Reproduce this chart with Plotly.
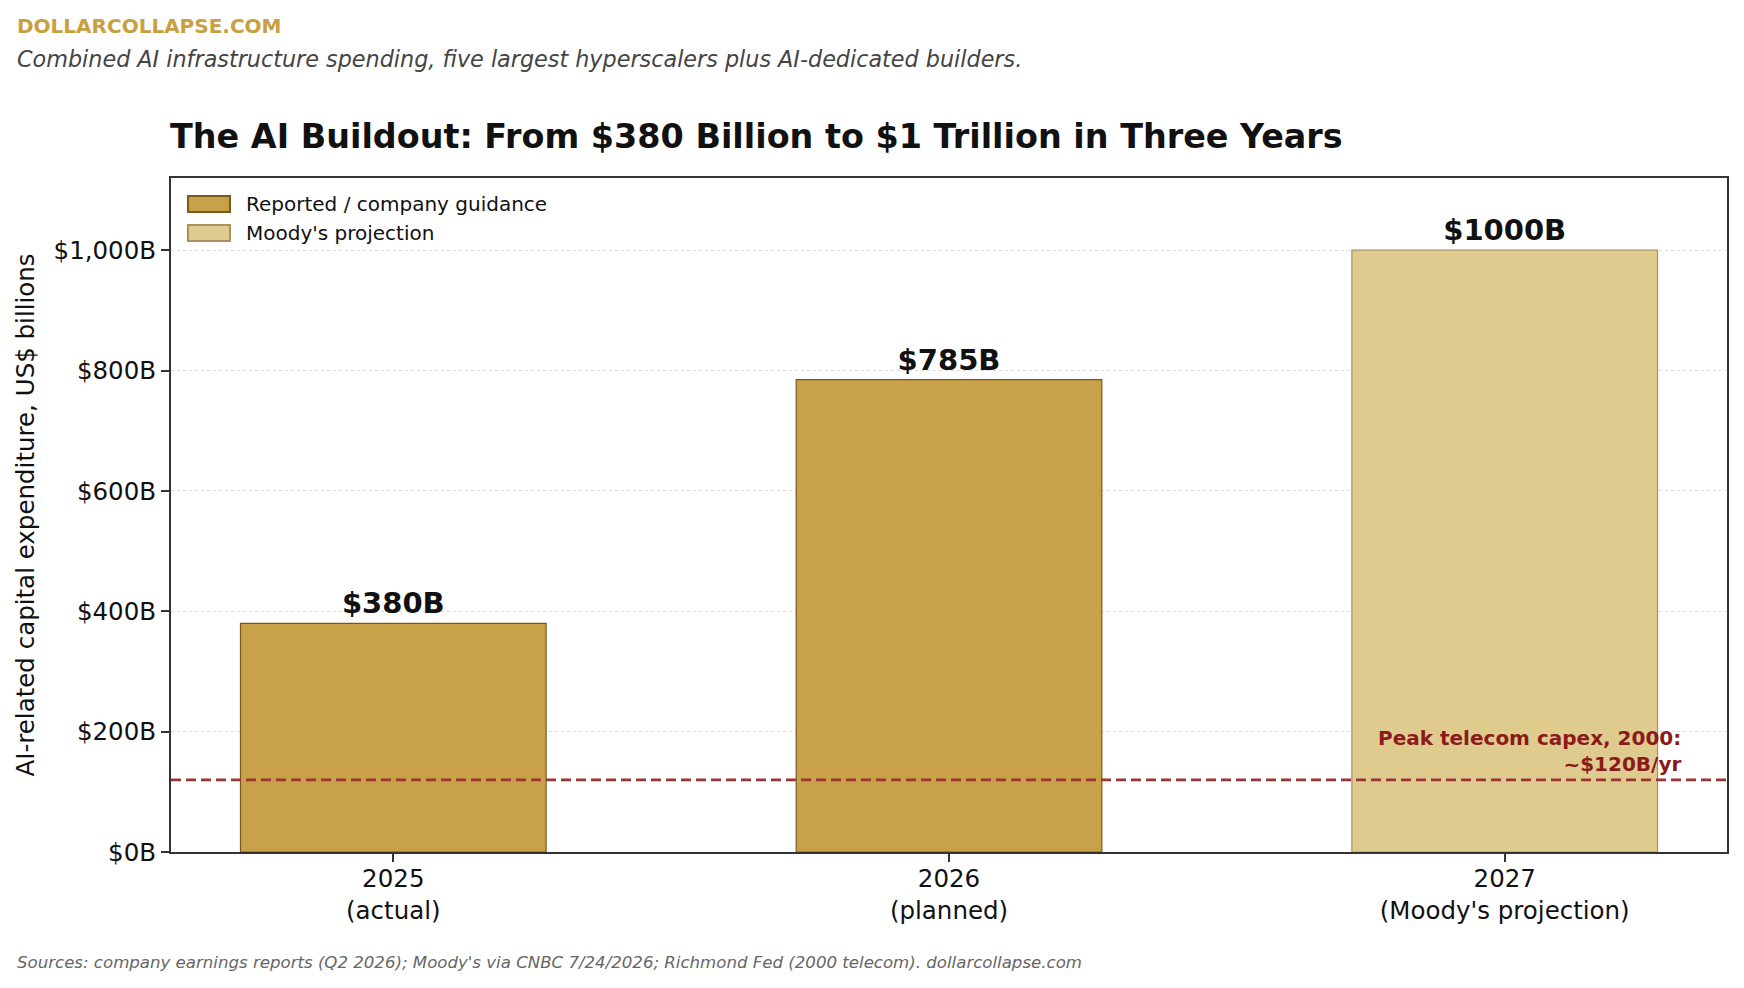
import plotly.graph_objects as go

categories = ["2025<br>(actual)", "2026<br>(planned)", "2027<br>(Moody's projection)"]
reported_cats = categories[:2]
reported_vals = [380, 785]
projection_cats = categories[2:]
projection_vals = [1000]
reported_labels = ["$380B", "$785B"]
projection_labels = ["$1000B"]
telecom_peak = 120
y_tickvals = [0, 200, 400, 600, 800, 1000]
y_ticktext = ["$0B", "$200B", "$400B", "$600B", "$800B", "$1,000B"]
legend_names = ["Reported / company guidance", "Moody's projection"]

FONT = "DejaVu Sans"
C_REP, E_REP = "#C9A14A", "#7A5A1A"
C_PROJ, E_PROJ = "#E0CB8F", "#A8905F"

fig = go.Figure()
fig.add_trace(go.Bar(
    x=reported_cats, y=reported_vals, name=legend_names[0],
    width=0.55, marker=dict(color=C_REP, line=dict(color=E_REP, width=1.2)),
    text=reported_labels, textposition="outside", cliponaxis=False,
    textfont=dict(family=FONT, size=29, color="#111111", weight="bold"),
))
fig.add_trace(go.Bar(
    x=projection_cats, y=projection_vals, name=legend_names[1],
    width=0.55, marker=dict(color=C_PROJ, line=dict(color=E_PROJ, width=1.2)),
    text=projection_labels, textposition="outside", cliponaxis=False,
    textfont=dict(family=FONT, size=29, color="#111111", weight="bold"),
))

fig.add_hline(y=telecom_peak, line=dict(color="#9B3535", width=2.8, dash="10px,5px"))

fig.add_annotation(
    x=2.32, y=telecom_peak, xref="x", yref="y", xanchor="right", yanchor="bottom",
    text="Peak telecom capex, 2000:<br>~$120B/yr", align="right", showarrow=False,
    font=dict(family=FONT, size=20, color="#8B1A1A", weight="bold"), yshift=2,
)

# Legend drawn as patches (matplotlib style)
leg_rows = [(0.9496, 0.9733, C_REP, E_REP, 0.9614), (0.9065, 0.9303, C_PROJ, E_PROJ, 0.9184)]
for (y0, y1, fc, ec, ty), name in zip(leg_rows, legend_names):
    fig.add_shape(type="rect", xref="paper", yref="paper", x0=0.0109, x1=0.0379, y0=y0, y1=y1,
                  fillcolor=fc, line=dict(color=ec, width=2))
    fig.add_annotation(x=0.0472, y=ty, xref="paper", yref="paper", xanchor="left", yanchor="middle",
                       text=name, showarrow=False, font=dict(family=FONT, size=20, color="#111111"))

fig.add_annotation(x=-0.1, y=1.2255, xref="paper", yref="paper", xanchor="left", yanchor="middle",
                   text="<b>DOLLARCOLLAPSE.COM</b>", showarrow=False,
                   font=dict(family=FONT, size=20, color="#C9A03F"))
fig.add_annotation(x=-0.1, y=1.1766, xref="paper", yref="paper", xanchor="left", yanchor="middle",
                   text="<i>Combined AI infrastructure spending, five largest hyperscalers plus AI-dedicated builders.</i>",
                   showarrow=False, font=dict(family=FONT, size=22.3, color="#444444"))
fig.add_annotation(x=-0.002, y=1.0623, xref="paper", yref="paper", xanchor="left", yanchor="middle",
                   text="<b>The AI Buildout: From $380 Billion to $1 Trillion in Three Years</b>",
                   showarrow=False, font=dict(family=FONT, size=33.4, color="#111111"))
fig.add_annotation(x=-0.1, y=-0.1635, xref="paper", yref="paper", xanchor="left", yanchor="middle",
                   text="<i>Sources: company earnings reports (Q2 2026); Moody's via CNBC 7/24/2026; Richmond Fed (2000 telecom). dollarcollapse.com</i>",
                   showarrow=False, font=dict(family=FONT, size=16.6, color="#666666"))

fig.update_layout(
    width=1736, height=980,
    margin=dict(l=163, r=17, t=170, b=136),
    paper_bgcolor="white", plot_bgcolor="white",
    barmode="overlay",
    font=dict(family=FONT, color="#111111"),
    showlegend=False,
    xaxis=dict(range=[-0.4, 2.4], showgrid=False, showline=True, linecolor="#333333", linewidth=2,
               mirror=True, ticks="outside", ticklen=8, tickwidth=1.5, tickcolor="#333333",
               ticklabelstandoff=-4,
               tickfont=dict(family=FONT, size=24.5, color="#111111")),
    yaxis=dict(range=[0, 1120], tickvals=y_tickvals, ticktext=y_ticktext,
               showgrid=True, gridcolor="#DDDDDD", griddash="dot", gridwidth=1,
               showline=True, linecolor="#333333", linewidth=2, mirror=True, zeroline=False,
               ticks="outside", ticklen=8, tickwidth=1.5, tickcolor="#333333",
               tickfont=dict(family=FONT, size=24.5, color="#111111"),
               title=dict(text="AI-related capital expenditure, US$ billions",
                          font=dict(family=FONT, size=24.5, color="#111111"), standoff=12)),
)

fig.write_html("out.html")
